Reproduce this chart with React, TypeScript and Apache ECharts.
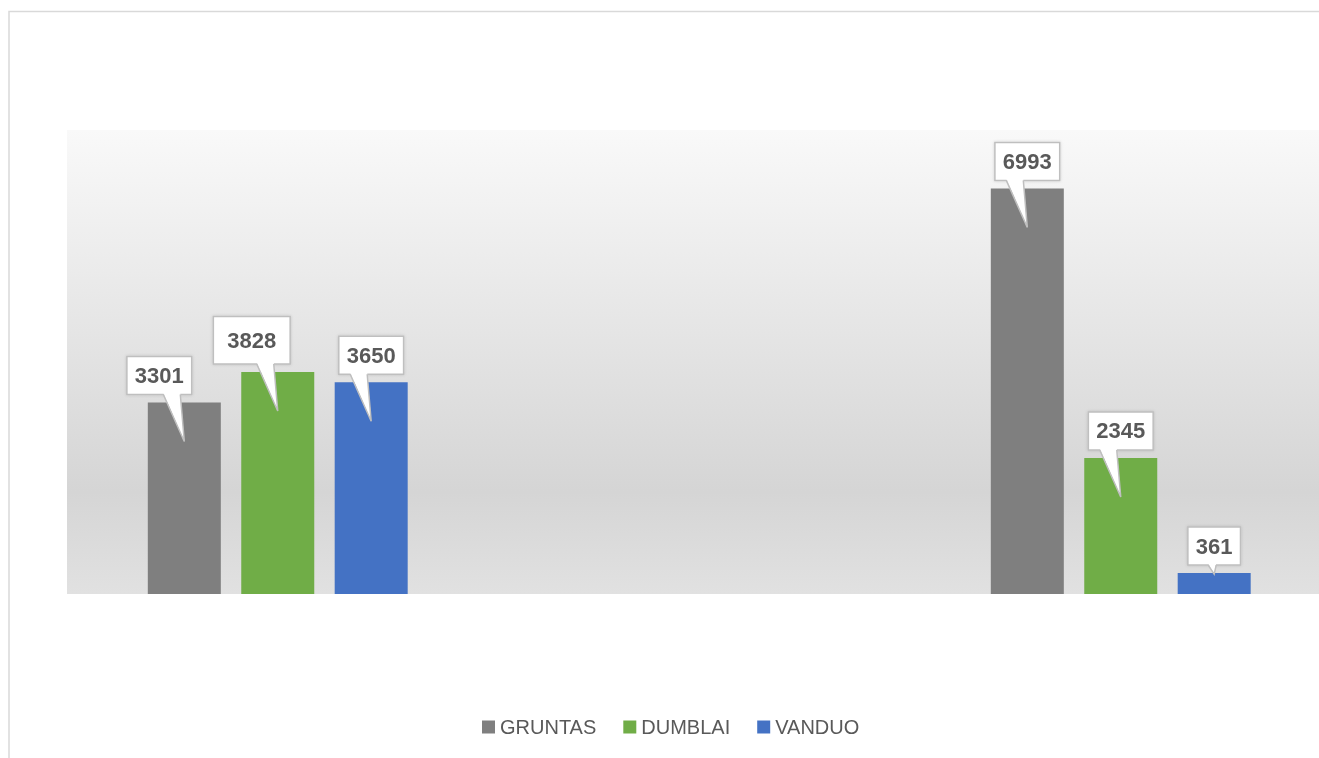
import React, { useEffect, useRef } from "react";
import * as echarts from "echarts";

const categories = ["1", "2", "3"];
const seriesNames = ["GRUNTAS", "DUMBLAI", "VANDUO"];
const gruntas = [3301, null, 6993];
const dumblai = [3828, null, 2345];
const vanduo = [3650, null, 361];
const colors = ["#7f7f7f", "#70ad47", "#4472c4"];

// callout layout (horizontal shift of box, depth of tail tip into bar, extra box size)
const calloutShift = [
  [-25, null, 0],
  [-26, null, 0],
  [0, null, 0],
];
const calloutTip = [
  [39, null, 39],
  [39, null, 39],
  [39, null, 1],
];
const calloutGrow = [
  [0, null, 0],
  [12, null, 0],
  [0, null, 0],
];

const BAR_W = 73;
const BAR_GAP = 20.44;

export default function App() {
  const ref = useRef<HTMLDivElement>(null);
  useEffect(() => {
    if (!ref.current) return;
    const chart = echarts.init(ref.current, null, { renderer: "svg" });
    const all = [gruntas, dumblai, vanduo];
    const calloutData: any[] = [];
    all.forEach((arr, s) => {
      arr.forEach((v, c) => {
        if (v != null)
          calloutData.push([c, v, s, calloutShift[s][c], calloutTip[s][c], calloutGrow[s][c]]);
      });
    });
    const option: any = {
      animation: false,
      grid: {
        show: true,
        left: 67,
        top: 130,
        width: 1264.5,
        height: 464,
        borderWidth: 0,
        outerBoundsMode: "none",
        containLabel: false,
        backgroundColor: {
          type: "linear",
          x: 0,
          y: 0,
          x2: 0,
          y2: 1,
          colorStops: [
            { offset: 0, color: "#f9f9f9" },
            { offset: 0.78, color: "#d5d5d5" },
            { offset: 1, color: "#e1e1e1" },
          ],
        },
      },
      xAxis: {
        type: "category",
        data: categories,
        axisLine: { show: false },
        axisTick: { show: false },
        axisLabel: { show: false },
        splitLine: { show: false },
      },
      yAxis: {
        type: "value",
        min: 0,
        max: 8000,
        show: false,
        splitLine: { show: false },
      },
      legend: {
        data: seriesNames,
        left: 482,
        top: 717,
        padding: 0,
        icon: "rect",
        itemWidth: 13,
        itemHeight: 13,
        itemGap: 27,
        textStyle: { fontSize: 20, color: "#595959", fontFamily: "Liberation Sans" },
      },
      graphic: [
        {
          type: "rect",
          silent: true,
          shape: { x: 9, y: 11.5, width: 1340, height: 780 },
          style: { fill: "none", stroke: "#d9d9d9", lineWidth: 1.5 },
        },
      ],
      series: [
        ...all.map((arr, s) => ({
          name: seriesNames[s],
          type: "bar",
          data: arr,
          barWidth: BAR_W,
          barGap: "28%",
          itemStyle: { color: colors[s] },
        })),
        {
          type: "custom",
          data: calloutData,
          z: 10,
          clip: false,
          silent: true,
          renderItem: (params: any, api: any) => {
            const c = api.value(0);
            const v = api.value(1);
            const s = api.value(2);
            const shift = api.value(3);
            const depth = api.value(4);
            const grow = api.value(5);
            const base = api.coord([c, 0]);
            const top = api.coord([c, v]);
            const barX = base[0] + (s - 1) * (BAR_W + BAR_GAP);
            const text = String(v);
            const w = text.length * 12.2 + 16 + grow;
            const h = 38 + grow * 0.8;
            const bx = barX + shift;
            const by = top[1] - 8;
            const tx = barX;
            const ty = top[1] + depth;
            const b0 = depth < 10 ? -6 : -21;
            const b1 = depth < 10 ? 2 : -4;
            return {
              type: "group",
              children: [
                {
                  type: "rect",
                  shape: { x: bx - w / 2, y: by - h, width: w, height: h },
                  style: {
                    fill: "#ffffff",
                    stroke: "#bfbfbf",
                    lineWidth: 1.5,
                    shadowBlur: 3,
                    shadowColor: "rgba(0,0,0,0.15)",
                  },
                },
                {
                  type: "polygon",
                  shape: { points: [[tx + b0, by - 1.5], [tx + b1, by - 1.5], [tx, ty]] },
                  style: { fill: "#ffffff" },
                },
                {
                  type: "polyline",
                  shape: { points: [[tx + b0, by], [tx, ty], [tx + b1, by]] },
                  style: { fill: "none", stroke: "#bfbfbf", lineWidth: 1.5 },
                },
                {
                  type: "text",
                  style: {
                    text,
                    x: bx,
                    y: by - h / 2,
                    align: "center",
                    verticalAlign: "middle",
                    fontSize: 22,
                    fontWeight: "bold",
                    fontFamily: "Liberation Sans",
                    fill: "#595959",
                  },
                },
              ],
            };
          },
        },
      ],
    };
    chart.setOption(option);
    return () => chart.dispose();
  }, []);
  return (
    <div
      ref={ref}
      style={{ position: "fixed", left: 0, top: 0, width: 1340, height: 758 }}
    />
  );
}
